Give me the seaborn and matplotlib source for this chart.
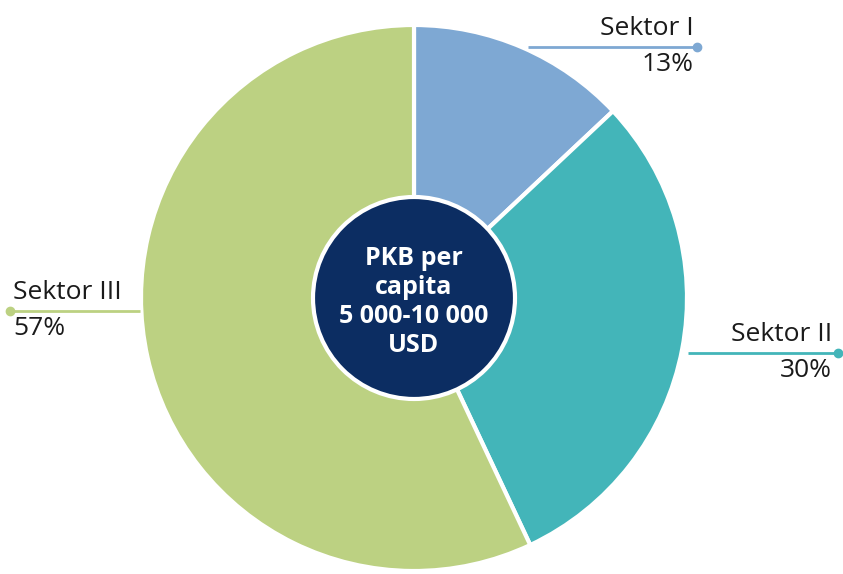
import matplotlib
matplotlib.use("Agg")
import matplotlib.pyplot as plt
import seaborn as sns
from matplotlib.patches import Circle

# Data
sectors = ["Sektor I", "Sektor II", "Sektor III"]
shares = [13, 30, 57]
colors = ["#7ea8d3", "#43b5b9", "#bcd182"]
center_text = "PKB per\ncapita\n5 000-10 000\nUSD"

sns.set_theme(style="white")
plt.rcParams["font.family"] = ["Open Sans", "DejaVu Sans"]

W, H = 843, 574
fig = plt.figure(figsize=(W / 100, H / 100), dpi=100)
ax = fig.add_axes([0, 0, 1, 1])

cx, cy, r = 414, H - 298, 273
ax.pie(shares, colors=sns.color_palette(colors), startangle=90, counterclock=False,
       center=(cx, cy), radius=r, frame=True,
       wedgeprops=dict(edgecolor="white", linewidth=3))
ax.set_xlim(0, W)
ax.set_ylim(0, H)
ax.axis("off")

ax.add_patch(Circle((cx, cy), 101, facecolor="#0c2d62", edgecolor="white",
                    linewidth=3, zorder=5))
ax.text(cx, cy - 4, center_text, color="white", fontsize=18, fontweight="bold",
        ha="center", va="center", linespacing=1.2, zorder=6)

# leader lines and labels: (line x0, line x1, y, dot x, text x, ha)
layout = [
    (528, 697, H - 47, 697, 694, "right"),
    (688, 838, H - 353, 838, 832, "right"),
    (10, 140, H - 311, 10, 13, "left"),
]
for name, val, col, (x0, x1, y, dx, tx, ha) in zip(sectors, shares, colors, layout):
    ax.plot([x0, x1], [y, y], color=col, lw=2, solid_capstyle="butt", zorder=4)
    ax.plot(dx, y, "o", color=col, markersize=6, zorder=4)
    ax.text(tx, y + 6, name, fontsize=19, color="#1a1a1a", ha=ha, va="bottom")
    ax.text(tx, y - 5, f"{val}%", fontsize=19, color="#1a1a1a", ha=ha, va="top")

fig.savefig("out.png", dpi=100)
